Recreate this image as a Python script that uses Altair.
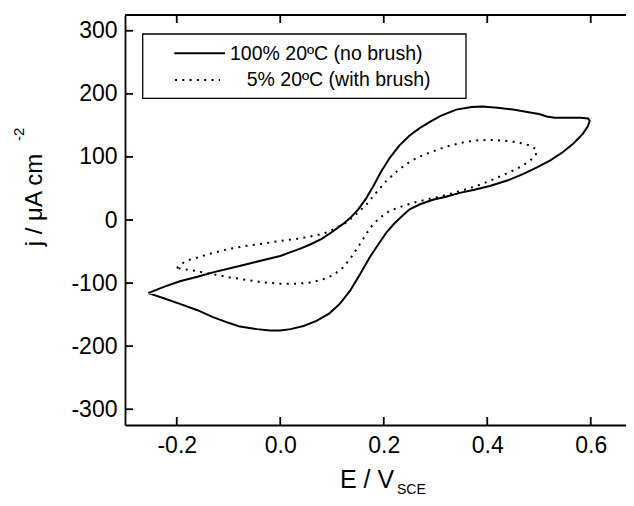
import altair as alt
import pandas as pd

# ---- data (E in V vs SCE, j in uA cm^-2) ----
solid_E = [-0.255, -0.225, -0.194, -0.16, -0.13, -0.095, -0.065, -0.03, 0.0, 0.02,
           0.04, 0.06, 0.08, 0.1, 0.12, 0.135, 0.15, 0.165, 0.18, 0.195,
           0.212, 0.23, 0.25, 0.27, 0.29, 0.31, 0.34, 0.37, 0.39, 0.42,
           0.45, 0.48, 0.5, 0.515, 0.53, 0.56, 0.58, 0.595, 0.598,
           0.594, 0.585, 0.566, 0.545, 0.521, 0.495, 0.47, 0.44, 0.405, 0.375,
           0.347, 0.32, 0.295, 0.27, 0.25, 0.235, 0.22, 0.205, 0.19, 0.173,
           0.155, 0.135, 0.115, 0.095, 0.07, 0.045, 0.02, 0.0, -0.02, -0.045,
           -0.078, -0.1, -0.13, -0.16, -0.194, -0.225, -0.255]
solid_j = [-116, -106, -97, -90, -83, -76, -70, -63, -57, -51,
           -45, -38, -30, -19, -7, 3, 16, 33, 54, 77,
           99, 118, 134, 146, 156, 165, 175, 179, 180, 178,
           175, 171, 168, 164, 162, 162, 162, 161, 157,
           148, 137, 121, 107, 94, 83, 73, 63, 54, 48,
           43, 37, 32, 25, 17, 6, -6, -20, -38, -59,
           -85, -112, -133, -148, -160, -168, -173, -175, -175, -173,
           -169, -163, -154, -143, -133, -124, -116]

dotted_E = [-0.2, -0.19, -0.175, -0.15, -0.129, -0.1, -0.065, -0.03, 0.0, 0.04,
            0.083, 0.105, 0.128, 0.148, 0.167, 0.185, 0.205, 0.225, 0.244, 0.265,
            0.289, 0.32, 0.347, 0.375, 0.405, 0.43, 0.45, 0.47, 0.483, 0.495,
            0.494, 0.483, 0.457, 0.43, 0.405, 0.38, 0.36, 0.335, 0.309, 0.285,
            0.264, 0.24, 0.212, 0.195, 0.18, 0.167, 0.154, 0.14, 0.122, 0.103,
            0.083, 0.06, 0.032, 0.0, -0.033, -0.065, -0.097, -0.13, -0.162, -0.185,
            -0.2]
dotted_j = [-76, -69, -63, -57, -52, -46, -41, -37, -33, -29,
            -22, -14, -4, 10, 25, 43, 62, 77, 89, 99,
            107, 116, 122, 126, 127, 126, 124, 121, 118, 112,
            104, 94, 81, 71, 62, 54, 49, 43, 37, 33,
            29, 23, 15, 5, -6, -21, -38, -56, -75, -87,
            -94, -99, -101, -101, -99, -95, -91, -86, -81, -78,
            -76]

series_names = ["100% 20\u00baC (no brush)", "5% 20\u00baC (with brush)"]
x_ticks = [-0.2, 0.0, 0.2, 0.4, 0.6]
y_ticks = [-300, -200, -100, 0, 100, 200, 300]
x_title = "E / V"
x_title_sub = "SCE"
y_title = "j / \u03bcA cm"
y_title_sup = "-2"

# ---- layout / style ----
W, H = 501, 410
FONT = "Liberation Sans"
TICK = 8
xs = alt.Scale(domain=[-0.3, -0.3 + W / 517.5], nice=False, zero=False)
ys = alt.Scale(domain=[-325, 325], nice=False, zero=False)
minus_fix = "replace(datum.label, '\u2212', '-')"

solid_df = pd.DataFrame({"E": solid_E, "j": solid_j, "i": list(range(len(solid_E)))})
dotted_df = pd.DataFrame({"E": dotted_E, "j": dotted_j, "i": list(range(len(dotted_E)))})
xt_df = pd.DataFrame({"v": x_ticks})
yt_df = pd.DataFrame({"v": y_ticks})

x_axis = alt.Axis(values=x_ticks, format=".1f", labelExpr=minus_fix, title=None,
                  ticks=False, grid=False, domainColor="black", domainWidth=1.8,
                  labelFont=FONT, labelFontSize=23, labelColor="black",
                  labelPadding=9, labelFlush=False)
y_axis = alt.Axis(values=y_ticks, format="d", labelExpr=minus_fix, title=None,
                  ticks=False, grid=False, domainColor="black", domainWidth=1.8,
                  labelFont=FONT, labelFontSize=23, labelColor="black",
                  labelPadding=8, labelFlush=False)

solid = alt.Chart(solid_df).mark_line(stroke="black", strokeWidth=2).encode(
    x=alt.X("E:Q", scale=xs, axis=x_axis),
    y=alt.Y("j:Q", scale=ys, axis=y_axis),
    order="i:Q",
)
dotted = alt.Chart(dotted_df).mark_line(stroke="black", strokeWidth=2, strokeDash=[2, 5.3]).encode(
    x=alt.X("E:Q", scale=xs, axis=x_axis),
    y=alt.Y("j:Q", scale=ys, axis=y_axis),
    order="i:Q",
)

# frame top line and inward ticks
top_line = alt.Chart(xt_df).mark_rule(stroke="black", strokeWidth=1.8).encode(
    x=alt.value(0), x2=alt.value(W), y=alt.value(0))
ticks_bottom = alt.Chart(xt_df).mark_rule(stroke="black", strokeWidth=1.8).encode(
    x=alt.X("v:Q", scale=xs, axis=x_axis), y=alt.value(H), y2=alt.value(H - TICK))
ticks_top = alt.Chart(xt_df).mark_rule(stroke="black", strokeWidth=1.8).encode(
    x=alt.X("v:Q", scale=xs, axis=x_axis), y=alt.value(0), y2=alt.value(TICK))
ticks_left = alt.Chart(yt_df).mark_rule(stroke="black", strokeWidth=1.8).encode(
    y=alt.Y("v:Q", scale=ys, axis=y_axis), x=alt.value(0), x2=alt.value(TICK))

def text_layer(txt, x, y, size, angle=0, align="left"):
    return alt.Chart(pd.DataFrame({"t": [txt]})).mark_text(
        font=FONT, fontSize=size, color="black", align=align,
        baseline="alphabetic", angle=angle,
    ).encode(text="t:N", x=alt.value(x), y=alt.value(y))

# axis titles with sub/superscripts
xt_main = text_layer(x_title, 215, 473, 25)
xt_sub = text_layer(x_title_sub, 272, 479, 14)
yt_main = text_layer(y_title, -83, 185, 24, angle=270, align="center")
yt_sup = text_layer(y_title_sup, -101, 126, 15, angle=270)

# legend box
leg_box = alt.Chart(pd.DataFrame({"t": [0]})).mark_rect(
    fill="white", stroke="black", strokeWidth=1.3).encode(
    x=alt.value(17.7), x2=alt.value(341), y=alt.value(19), y2=alt.value(83.3))
leg_solid = alt.Chart(pd.DataFrame({"t": [0]})).mark_rule(stroke="black", strokeWidth=2).encode(
    x=alt.value(49.3), x2=alt.value(100), y=alt.value(38.3))
leg_dot = alt.Chart(pd.DataFrame({"t": [0]})).mark_rule(
    stroke="black", strokeWidth=2, strokeDash=[2, 5.3]).encode(
    x=alt.value(50), x2=alt.value(95), y=alt.value(65))
leg_t1 = text_layer(series_names[0], 105, 44.5, 19.5)
leg_t2 = text_layer(series_names[1], 121.7, 71, 19.5)

chart = alt.layer(
    solid, dotted, top_line, ticks_bottom, ticks_top, ticks_left,
    xt_main, xt_sub, yt_main, yt_sup,
    leg_box, leg_solid, leg_dot, leg_t1, leg_t2,
).properties(
    width=W, height=H,
    padding={"left": 117, "top": 7, "right": 0, "bottom": 73},
    autosize=alt.AutoSizeParams(type="none"),
    background="white",
).configure_view(stroke=None)

chart.save("out.html", embed_options={"renderer": "svg", "actions": False})
